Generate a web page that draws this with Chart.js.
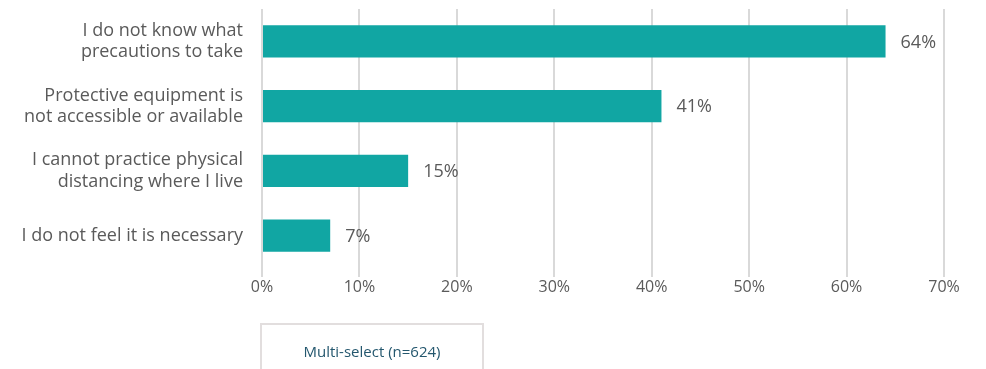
<!DOCTYPE html>
<html>
<head>
<meta charset="utf-8">
<script src="https://cdn.jsdelivr.net/npm/chart.js@4"></script>
<style>
  html, body { margin: 0; padding: 0; background: #fff; }
  #wrap { position: relative; width: 986px; height: 369px; }
  #note {
    position: absolute; left: 260px; top: 323px; width: 224px; height: 60px;
    border: 2px solid #e2dede; border-bottom: none; box-sizing: border-box;
    font-family: "Open Sans", sans-serif; font-size: 15px; color: #24576e;
    text-align: center; padding-top: 16px;
  }
</style>
</head>
<body>
<div id="wrap">
  <canvas id="chart" width="986" height="369"></canvas>
  <div id="note">Multi-select (n=624)</div>
</div>
<script>
// reasons given for not taking precautions
const categories = [
    ["I do not know what", "precautions to take"],
    ["Protective equipment is", "not accessible or available"],
    ["I cannot practice physical", "distancing where I live"],
    "I do not feel it is necessary"
];
const percents = [64, 41, 15, 7];
const xTicks = [0, 10, 20, 30, 40, 50, 60, 70];

const barColor = "#11a6a3";
const textColor = "#5a5a5a";
const fontFamily = "'Open Sans', sans-serif";

// writes the percentage just past the end of each bar
const valueLabels = {
    id: "valueLabels",
    afterDatasetsDraw(chart) {
        const ctx = chart.ctx;
        const meta = chart.getDatasetMeta(0);
        ctx.save();
        ctx.font = "18px " + fontFamily;
        ctx.fillStyle = textColor;
        ctx.textAlign = "left";
        ctx.textBaseline = "middle";
        meta.data.forEach((bar, i) => {
            ctx.fillText(percents[i] + "%", bar.x + 15, bar.y + 1);
        });
        ctx.restore();
    }
};

new Chart(document.getElementById("chart"), {
    type: "bar",
    data: {
        labels: categories,
        datasets: [{
            data: percents,
            backgroundColor: barColor,
            borderWidth: 0,
            barPercentage: 0.5,
            categoryPercentage: 1.0
        }]
    },
    options: {
        indexAxis: "y",
        responsive: false,
        animation: false,
        layout: { padding: { top: 9, right: 42, left: 0, bottom: 0 } },
        plugins: { legend: { display: false }, tooltip: { enabled: false } },
        scales: {
            x: {
                min: 0,
                max: 70,
                afterBuildTicks(scale) {
                    scale.ticks = xTicks.map(v => ({ value: v }));
                },
                afterFit(scale) {
                    scale.height = 101;
                    scale.paddingLeft = 0;
                    scale.paddingRight = 0;
                },
                grid: { color: "#d9d9d9", lineWidth: 2, tickLength: 9 },
                border: { display: false },
                ticks: {
                    padding: 1,
                    color: textColor,
                    font: { family: fontFamily, size: 16 },
                    callback: v => v + "%"
                }
            },
            y: {
                afterFit(scale) {
                    scale.width = 262;
                    scale.paddingTop = 0;
                    scale.paddingBottom = 0;
                },
                grid: { display: false },
                border: { display: false },
                ticks: {
                    padding: 11,
                    color: textColor,
                    font: { family: fontFamily, size: 18, lineHeight: 1.17 }
                }
            }
        }
    },
    plugins: [valueLabels]
});
</script>
</body>
</html>
